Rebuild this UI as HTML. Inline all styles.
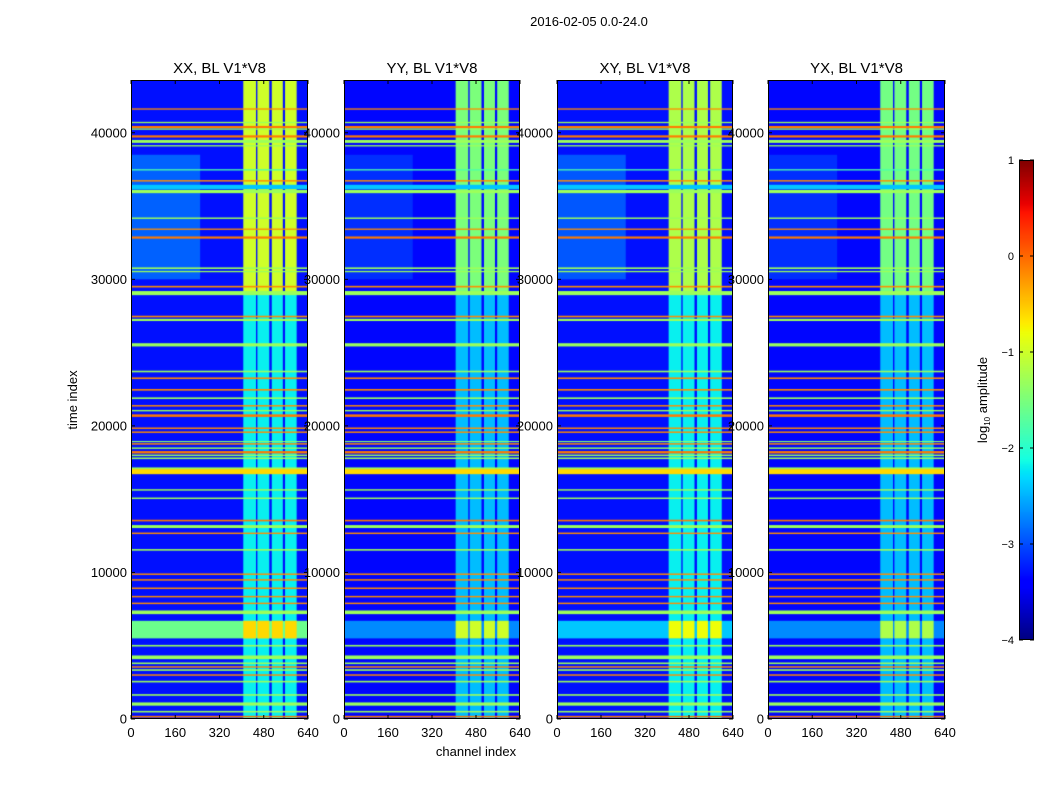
<!DOCTYPE html>
<html><head><meta charset="utf-8">
<style>
body{margin:0;background:#fff;width:1050px;height:800px;overflow:hidden;position:relative;font-family:"Liberation Sans",sans-serif}
canvas{position:absolute}
svg{position:absolute;left:0;top:0}
</style></head>
<body>
<canvas id="c0" width="177" height="639" style="left:131px;top:80px"></canvas>
<canvas id="c1" width="176" height="639" style="left:344px;top:80px"></canvas>
<canvas id="c2" width="176" height="639" style="left:557px;top:80px"></canvas>
<canvas id="c3" width="177" height="639" style="left:768px;top:80px"></canvas>
<canvas id="cb" width="15" height="480" style="left:1019px;top:160px"></canvas>
<svg id="ov" width="1050" height="800"></svg>
<script>
// ---- data ----
const panelTitles=["XX, BL V1*V8","YY, BL V1*V8","XY, BL V1*V8","YX, BL V1*V8"];
const xTicks=[0,160,320,480,640];
const yTicks=[0,10000,20000,30000,40000];
const cbTicks=[1,0,-1,-2,-3,-4];
const timeMax=43600, chanMax=640, vmin=-4, vmax=1;
const bgVals=[-3.3,-3.35,-3.3,-3.35];
// vertical RFI bands (channel ranges)
const bandStart=[406,457,509,557];
const bandEnd=[452,500,549,599];
const bandSplitTime=29000;
const bandTopVals=[-1.0,-1.5,-1.2,-1.55];
const bandBottomVals=[-2.2,-2.45,-2.2,-2.45];
// low-level diffuse region upper-left
const regionT0=[30000], regionT1=[38500], regionC0=[0], regionC1=[250];
const regionVals=[-2.9,-3.15,-2.95,-3.15];
// broad cross band near t~6000
const crossT0=5500, crossT1=6700;
const crossVals=[-1.6,-2.7,-2.4,-2.7];
const crossBandVals=[-0.6,-1.0,-0.8,-1.2];
// horizontal lines: time, value, span (time units)
const lineTimes=[41620,40700,40390,40250,39750,39410,39110,37470,36720,36300,35990,34170,33420,32850,30760,30530,29500,29060,27460,27230,25530,23710,23250,22460,21890,21370,21040,20700,19840,19570,18930,18770,18480,18200,17990,17790,17110,16880,15630,15060,13540,13130,12670,11540,9880,9490,8920,8350,7890,7280,5000,4210,3800,3550,3340,3000,2550,1640,1020,500,160];
const lineVals=[-0.2,-1.3,-0.1,-1.3,-0.1,-1.3,-1.3,-1.8,-0.2,-2.4,-1.3,-1.3,-0.2,-0.1,-1.3,-1.3,-0.2,-1.3,-0.2,-1.3,-1.3,-1.3,-0.2,-0.2,-1.3,-0.2,-1.3,-0.1,-0.2,-0.2,-1.4,-0.2,-1.3,-0.1,-1.3,-1.3,-1.3,-0.6,-1.3,-1.3,-0.1,-1.3,-0.2,-1.3,-0.2,-0.2,-0.2,-0.2,-0.2,-1.3,-1.3,-1.3,-1.3,-0.2,-1.3,-0.2,-1.3,-1.3,-1.3,-1.3,-0.1];
const lineSpans=[90,90,150,90,150,200,90,90,100,300,220,100,90,150,110,90,110,280,110,150,220,110,110,110,110,100,100,170,100,100,80,100,100,160,100,110,110,350,100,100,110,200,100,110,100,100,100,100,100,250,110,250,110,100,110,100,110,110,220,110,110];

// ---- colormap ----
function clip(v){return Math.max(0,Math.min(1,v));}
function jet(x){x=clip(x);
 let r,g,b;
 r = x<0.35?0:x<0.66?(x-0.35)/0.31:x<0.89?1:1-0.5*(x-0.89)/0.11;
 g = x<0.125?0:x<0.375?(x-0.125)/0.25:x<0.64?1:x<0.91?1-(x-0.64)/0.27:0;
 b = x<0.11?0.5+0.5*x/0.11:x<0.34?1:x<0.65?1-(x-0.34)/0.31:0;
 return `rgb(${Math.round(r*255)},${Math.round(g*255)},${Math.round(b*255)})`;}
function col(v){return jet((v-vmin)/(vmax-vmin));}

// ---- draw panels ----
for(let p=0;p<4;p++){
 const cv=document.getElementById('c'+p), ctx=cv.getContext('2d');
 const W=cv.width,H=cv.height;
 const xs=c=>c/chanMax*W, ys=t=>H-t/timeMax*H;
 ctx.fillStyle=col(bgVals[p]);ctx.fillRect(0,0,W,H);
 for(let i=0;i<regionT0.length;i++){
  ctx.fillStyle=col(regionVals[p]);
  ctx.fillRect(xs(regionC0[i]),ys(regionT1[i]),xs(regionC1[i])-xs(regionC0[i]),ys(regionT0[i])-ys(regionT1[i]));
 }
 for(let i=0;i<bandStart.length;i++){
  const x0=xs(bandStart[i]),w=xs(bandEnd[i])-x0;
  ctx.fillStyle=col(bandTopVals[p]);ctx.fillRect(x0,0,w,ys(bandSplitTime));
  ctx.fillStyle=col(bandBottomVals[p]);ctx.fillRect(x0,ys(bandSplitTime),w,H-ys(bandSplitTime));
 }
 ctx.fillStyle=col(crossVals[p]);
 ctx.fillRect(0,ys(crossT1),W,ys(crossT0)-ys(crossT1));
 for(let i=0;i<bandStart.length;i++){
  const x0=xs(bandStart[i]),w=xs(bandEnd[i])-x0;
  ctx.fillStyle=col(crossBandVals[p]);ctx.fillRect(x0,ys(crossT1),w,ys(crossT0)-ys(crossT1));
 }
 for(let i=0;i<lineTimes.length;i++){
  const y0=ys(lineTimes[i]+lineSpans[i]/2),h=Math.max(1,ys(lineTimes[i]-lineSpans[i]/2)-y0);
  ctx.fillStyle=col(lineVals[i]);ctx.fillRect(0,y0,W,h);
 }
}
// colorbar
(function(){const cv=document.getElementById('cb'),ctx=cv.getContext('2d');
 for(let y=0;y<cv.height;y++){ctx.fillStyle=col(vmax-(y+0.5)/cv.height*(vmax-vmin));ctx.fillRect(0,y,cv.width,1);} })();

// ---- overlay ----
const NS="http://www.w3.org/2000/svg", ov=document.getElementById('ov');
function el(tag,attrs,txt){const e=document.createElementNS(NS,tag);for(const k in attrs)e.setAttribute(k,attrs[k]);if(txt!==undefined)e.textContent=txt;ov.appendChild(e);return e;}
const panelLeft=[131,344,557,768],panelW=[177,176,176,177],plotTop=80,plotBot=719;
for(let p=0;p<4;p++){
 const L=panelLeft[p],W=panelW[p];
 const xp=c=>L+c/chanMax*W, yp=t=>plotBot-t/timeMax*(plotBot-plotTop);
 let r=el('rect',{x:L+0.5,y:plotTop+0.5,width:W-1,height:plotBot-plotTop-1,fill:'none',stroke:'#000','stroke-width':1});
 
 let t=el('text',{x:L+W/2,y:73,'text-anchor':'middle','font-size':15,fill:'#000'},panelTitles[p]);
 
 xTicks.forEach(v=>{const x=xp(v);
  el('line',{x1:x,x2:x,y1:plotBot,y2:plotBot-4,stroke:'#000'});el('line',{x1:x,x2:x,y1:plotTop,y2:plotTop+4,stroke:'#000'});
  const lb=el('text',{x:x,y:737,'text-anchor':'middle','font-size':13,fill:'#000'},v);
  });
 yTicks.forEach(v=>{const y=yp(v);
  el('line',{x1:L,x2:L+4,y1:y,y2:y,stroke:'#000'});el('line',{x1:L+W,x2:L+W-4,y1:y,y2:y,stroke:'#000'});
  const lb=el('text',{x:L-4,y:y+4.5,'text-anchor':'end','font-size':13,fill:'#000'},v);
  });
}
let e;
e=el('text',{x:589,y:26,'text-anchor':'middle','font-size':13,fill:'#000'},'2016-02-05 0.0-24.0');

e=el('text',{x:476,y:756,'text-anchor':'middle','font-size':13,fill:'#000'},'channel index');

e=el('text',{x:77,y:400,'text-anchor':'middle','font-size':13,fill:'#000',transform:'rotate(-90 77 400)'},'time index');

e=el('rect',{x:1019.5,y:160.5,width:14,height:479,fill:'none',stroke:'#000'});

cbTicks.forEach(v=>{const y=160+(vmax-v)/(vmax-vmin)*480;
 el('line',{x1:1019,x2:1023,y1:y,y2:y,stroke:'#000'});el('line',{x1:1034,x2:1030,y1:y,y2:y,stroke:'#000'});
 const lb=el('text',{x:1014,y:y+4,'text-anchor':'end','font-size':11,fill:'#000'},v<0?'\u2212'+(-v):v);
 });
e=el('text',{x:987,y:400,'text-anchor':'middle','font-size':13,fill:'#000',transform:'rotate(-90 987 400)'});

e.appendChild(document.createTextNode('log'));
const sub=document.createElementNS(NS,'tspan');sub.setAttribute('font-size',8);sub.setAttribute('dy',3);sub.textContent='10';e.appendChild(sub);
const rest=document.createElementNS(NS,'tspan');rest.setAttribute('dy',-3);rest.textContent=' amplitude';e.appendChild(rest);
</script>
</body></html>
